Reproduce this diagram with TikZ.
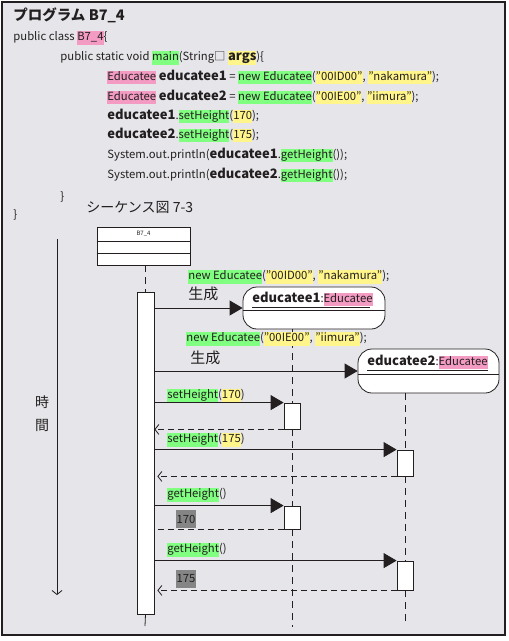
\documentclass[tikz,border=0pt]{standalone}
\usepackage{fontspec}
\setmainfont{Noto Sans CJK JP}
\usetikzlibrary{arrows.meta}

\definecolor{bggray}{HTML}{E6E6EA}
\definecolor{hlgreen}{HTML}{80FF80}
\definecolor{hlyellow}{HTML}{FFF58A}
\definecolor{hlpink}{HTML}{F39BC3}
\definecolor{numgray}{HTML}{858585}
\definecolor{ink}{HTML}{231F20}

\newcommand{\hg}[1]{{\fboxsep=0pt\colorbox{hlgreen}{\strut #1}}}
\newcommand{\hy}[1]{{\fboxsep=0pt\colorbox{hlyellow}{\strut #1}}}
\newcommand{\hp}[1]{{\fboxsep=0pt\colorbox{hlpink}{\strut #1}}}
\newcommand{\bv}[1]{{\fontsize{13}{13.5}\selectfont\bfseries #1}}

\begin{document}
\begin{tikzpicture}[x=1pt, y=-1pt, >=Stealth, line width=0.8pt, ink,
    code/.style={anchor=west, inner sep=0pt, font=\fontsize{11.3}{13.5}\selectfont},
    msg/.style={-{Triangle[length=13pt, width=15pt]}},
    ret/.style={dash pattern=on 6pt off 4pt, -{Straight Barb[length=4pt, width=10pt]}},
    life/.style={dash pattern=on 7pt off 5pt},
    actbox/.style={draw, fill=white, minimum width=16pt, inner sep=0pt},
    obj/.style={draw, fill=white, rounded corners=14pt, inner sep=0pt},
    numbox/.style={fill=numgray, inner xsep=1pt, inner ysep=0pt, minimum height=18pt,
        font=\fontsize{11.3}{13.5}\selectfont}]

    \useasboundingbox (0,0) rectangle (509,641);
    \draw[line width=1.2pt, fill=bggray] (2,2) rectangle (505,635);

    % Program text
    \node[code, font=\fontsize{14.5}{16}\selectfont\bfseries] (title) at (13,15) {プログラム B7\_4};
    \node[code] (l1) at (13,38) {public class \hp{B7\_4}\{};
    \node[code] (l2) at (60,58) {public static void \hg{main}(String□ \hy{\bv{args}})\{};
    \node[code] (l3) at (107,77) {\hp{Educatee} \bv{educatee1} = \hg{new Educatee}(\hy{”00ID00”}, \hy{”nakamura”});};
    \node[code] (l4) at (107,97) {\hp{Educatee} \bv{educatee2} = \hg{new Educatee}(\hy{”00IE00”}, \hy{”iimura”});};
    \node[code] (l5) at (107,116) {\bv{educatee1}.\hg{setHeight}(\hy{170});};
    \node[code] (l6) at (107,135) {\bv{educatee2}.\hg{setHeight}(\hy{175});};
    \node[code] (l7) at (107,155) {System.out.println(\bv{educatee1}.\hg{getHeight}());};
    \node[code] (l8) at (107,175) {System.out.println(\bv{educatee2}.\hg{getHeight}());};
    \node[code] (l9) at (60,197) {\}};
    \node[code] (l10) at (13,215) {\}};
    \node[code, font=\fontsize{14}{16}\selectfont] (seqtitle) at (86,207) {シーケンス図 7-3};

    % Time axis
    \coordinate (t0) at (57,239);
    \coordinate (t1) at (57,595);
    \draw[-{Straight Barb[length=4pt, width=10pt]}] (t0) -- (t1);
    \node[font=\fontsize{14}{16}\selectfont] (ji) at (42,402) {時};
    \node[font=\fontsize{14}{16}\selectfont] (kan) at (42,425) {間};

    % Main class and its activation
    \node[draw, fill=white, minimum width=93pt, minimum height=38pt, inner sep=0pt] (b74) at (143.5,246) {};
    \draw (b74.west |- 0,241) -- (b74.east |- 0,241);
    \draw (b74.west |- 0,253) -- (b74.east |- 0,253);
    \node[font=\fontsize{6}{7}\selectfont] (b74name) at (143.5,234) {B7\_4};
    \node[draw, fill=white, minimum width=17pt, minimum height=322pt, inner sep=0pt] (act) at (145.5,453) {};
    \coordinate (actend) at (145,626);
    \draw[life] (b74.south -| act) -- (act.north);
    \draw (act.south) -- (actend);

    % Objects
    \node[obj, minimum width=142pt, minimum height=42pt] (e1) at (314,308) {};
    \node[obj, minimum width=141pt, minimum height=44pt] (e2) at (428.5,371) {};
    \draw (e1.west |- 0,310) -- (e1.east |- 0,310);
    \draw (e2.west |- 0,374) -- (e2.east |- 0,374);
    \node[code] (e1name) at (252,299) {\bv{educatee1}:\hp{Educatee}};
    \node[code] (e2name) at (367,362) {\bv{educatee2}:\hp{Educatee}};
    \draw (252,307) -- (370,307);
    \draw (367,370) -- (488,370);

    % Activations on the objects
    \node[actbox, minimum height=26pt] (a1) at (292,416) {};
    \node[actbox, minimum height=26pt] (a2) at (405,463) {};
    \node[actbox, minimum height=23pt] (a3) at (292,517.5) {};
    \node[actbox, minimum height=29pt] (a4) at (405,575.5) {};
    \coordinate (end1) at (292,627);
    \coordinate (end2) at (405,623);
    \draw[life] (a1 |- e1.south) -- (a1.north);
    \draw[life] (a1.south) -- (a3.north);
    \draw[life] (a3.south) -- (end1);
    \draw[life] (a2 |- e2.south) -- (a2.north);
    \draw[life] (a2.south) -- (a4.north);
    \draw[life] (a4.south) -- (end2);

    % Creation messages
    \node[code] (m1) at (188,277) {\hg{new Educatee}(\hy{”00ID00”}, \hy{”nakamura”});};
    \node[code, font=\fontsize{15}{16}\selectfont] (c1) at (188,294) {生成};
    \draw[msg] (act.east |- e1.west) -- (e1.west);
    \node[code] (m2) at (186,339) {\hg{new Educatee}(\hy{”00IE00”}, \hy{”iimura”});};
    \node[code, font=\fontsize{15}{16}\selectfont] (c2) at (190,358) {生成};
    \draw[msg] (act.east |- e2.west) -- (e2.west);

    % Method calls and returns
    \node[code] (m3) at (167,396) {\hg{setHeight}(\hy{170})};
    \draw[msg] (act.east |- a1.north west) -- (a1.north west);
    \draw[ret] (a1.south west) -- (act.east |- a1.south west);
    \node[code] (m4) at (167,440) {\hg{setHeight}(\hy{175})};
    \draw[msg] (act.east |- a2.north west) -- (a2.north west);
    \draw[ret] (a2.south west) -- ([xshift=3pt]act.east |- a2.south west);
    \node[code] (m5) at (167,495) {\hg{getHeight}()};
    \draw[msg] (act.east |- a3.north west) -- (a3.north west);
    \draw[dash pattern=on 6pt off 4pt] (a3.south west) -- (act.east |- a3.south west);
    \node[numbox] (r1) at (186,519) {170};
    \node[code] (m6) at (167,550) {\hg{getHeight}()};
    \draw[msg] (act.east |- a4.north west) -- (a4.north west);
    \draw[ret] (a4.south west) -- ([xshift=3pt]act.east |- a4.south west);
    \node[numbox] (r2) at (186,579) {175};

\end{tikzpicture}
\end{document}
